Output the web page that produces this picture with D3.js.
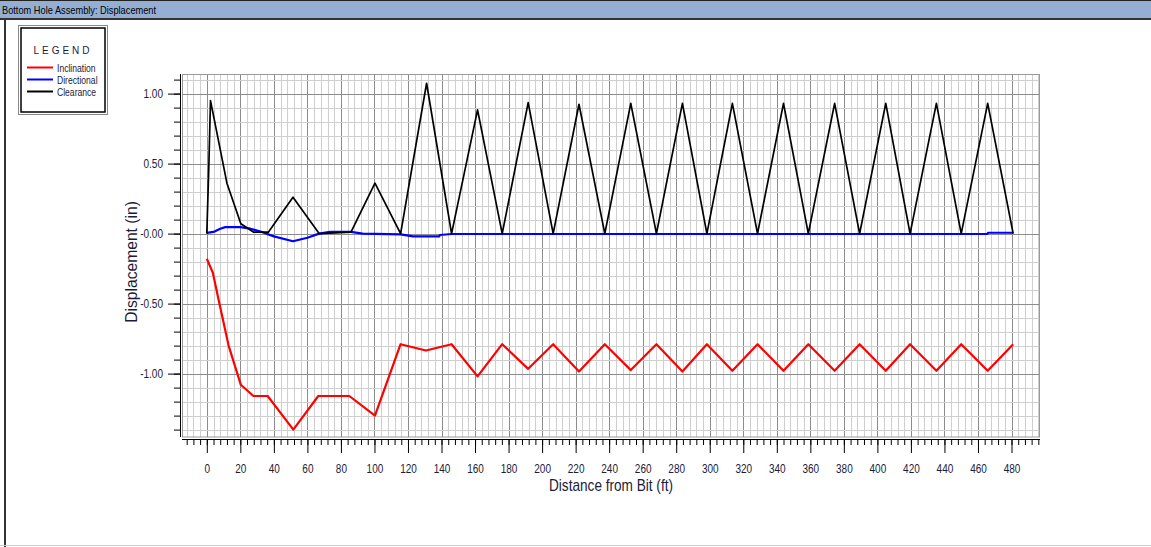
<!DOCTYPE html>
<html>
<head>
<meta charset="utf-8">
<script src="https://cdn.jsdelivr.net/npm/d3@7"></script>
<style>
    body { margin: 0; background: #fff; overflow: hidden; }
    svg text { font-family: "Liberation Sans", Arial, sans-serif; }
</style>
</head>
<body>
<div id="my_dataviz"></div>
<script>
// values (distance in ft, displacement in in)
var inclinationX = [0, 3.6, 7, 13, 20.3, 27.8, 36.3, 51.6, 66.5, 85, 100.3, 115.6, 130.7, 146, 161.5, 176.2, 191.7, 206.6, 222, 237.4, 252.9, 268.2, 283.7, 298.3, 313.5, 328.5, 344, 358.8, 374.5, 389.4, 405, 419.5, 435.2, 450, 465.8, 481];
var inclinationY = [-0.18, -0.28, -0.47, -0.80, -1.08, -1.16, -1.16, -1.40, -1.16, -1.16, -1.30, -0.79, -0.835, -0.79, -1.02, -0.79, -0.966, -0.79, -0.985, -0.79, -0.975, -0.79, -0.985, -0.79, -0.98, -0.79, -0.98, -0.79, -0.98, -0.79, -0.98, -0.79, -0.98, -0.79, -0.98, -0.79];

var directionalX = [0, 4, 8, 11, 20, 26, 32, 40, 51.4, 60, 67, 73.5, 86, 93, 115.6, 123, 138.6, 139, 146, 465.6, 466, 481];
var directionalY = [0.005, 0.012, 0.035, 0.046, 0.046, 0.035, 0.015, -0.02, -0.055, -0.03, 0.0, 0.012, 0.012, 0.0, -0.005, -0.02, -0.02, -0.01, -0.003, -0.003, 0.006, 0.006];

var clearanceX = [0, 1.2, 2.2, 12, 20.3, 28, 36.7, 51.4, 67, 86, 100.3, 115.6, 131.1, 146, 161.5, 176.2, 191.7, 206.6, 222, 237.4, 252.9, 268.2, 283.7, 298.3, 313.5, 328.5, 344, 358.8, 374.5, 389.4, 405, 419.5, 435.2, 450, 465.8, 481];
var clearanceY = [0, 0.48, 0.95, 0.36, 0.07, 0.01, 0.01, 0.26, 0.0, 0.01, 0.36, 0.0, 1.074, 0.0, 0.884, 0.0, 0.936, 0.0, 0.924, 0.0, 0.93, 0.0, 0.93, 0.0, 0.93, 0.0, 0.93, 0.0, 0.93, 0.0, 0.93, 0.0, 0.93, 0.0, 0.93, 0.0];

var seriesNames = ["Inclination", "Directional", "Clearance"];
var seriesColors = ["#ff0000", "#0000ff", "#000000"];

var xTickValues = d3.range(0, 481, 20);
var yTickValues = [1, 0.5, 0, -0.5, -1];
var yTickLabels = ["1.00", "0.50", "-0.00", "-0.50", "-1.00"];

var width = 1151;
var height = 547;

// squeeze text to look like the narrow font of the original
function narrow(sel, ratio) {
    sel.each(function () {
        var w = this.getComputedTextLength();
        d3.select(this)
            .attr("textLength", w * ratio)
            .attr("lengthAdjust", "spacingAndGlyphs");
    });
}

var svg = d3
    .select("#my_dataviz")
    .append("svg")
    .attr("id", "svg")
    .attr("width", width)
    .attr("height", height);

// window frame + title bar
svg.append("rect").attr("x", 0).attr("y", 0).attr("width", width).attr("height", height).attr("fill", "#fff");
svg.append("rect").attr("x", 0).attr("y", 0).attr("width", width).attr("height", 19).attr("fill", "#94afd3");
svg.append("line").attr("x1", 0).attr("x2", width).attr("y1", 0.5).attr("y2", 0.5).attr("stroke", "#222");
svg.append("line").attr("x1", 0).attr("x2", width).attr("y1", 19).attr("y2", 19).attr("stroke", "#333").attr("stroke-width", 2);
svg.append("line").attr("x1", 5).attr("x2", 5).attr("y1", 19).attr("y2", height).attr("stroke", "#333").attr("stroke-width", 2);
svg.append("line").attr("x1", 0).attr("x2", width).attr("y1", height - 1.5).attr("y2", height - 1.5).attr("stroke", "#ccc");
svg.append("text")
    .attr("x", 2)
    .attr("y", 14)
    .style("font-size", "11px")
    .attr("fill", "#000")
    .text("Bottom Hole Assembly: Displacement")
    .call(narrow, 0.84);

// scales
var x = d3.scaleLinear().domain([-14.8, 497]).range([182, 1040]);
var y = d3.scaleLinear().domain([-1.455, 1.14]).range([437.3, 74]);

var plot = svg.append("g");

// grid
var vMinor = d3.range(-12, 497, 4);
var hMinor = d3.range(-14, 12, 1).map(function (d) { return d / 10; });

plot.selectAll("vgrid")
    .data(vMinor)
    .enter()
    .append("line")
    .attr("x1", function (d) { return Math.round(x(d)) + 0.5; })
    .attr("x2", function (d) { return Math.round(x(d)) + 0.5; })
    .attr("y1", 74)
    .attr("y2", 437)
    .attr("stroke", function (d) { return d % 20 === 0 ? "#8c8c8c" : "#cfcfcf"; });

plot.selectAll("hgrid")
    .data(hMinor)
    .enter()
    .append("line")
    .attr("x1", 182)
    .attr("x2", 1040)
    .attr("y1", function (d) { return Math.round(y(d)) + 0.5; })
    .attr("y2", function (d) { return Math.round(y(d)) + 0.5; })
    .attr("stroke", function (d) { return Math.abs(Math.round(d * 10)) % 5 === 0 ? "#8c8c8c" : "#cfcfcf"; });

plot.append("rect")
    .attr("x", 182.5)
    .attr("y", 74.5)
    .attr("width", 857)
    .attr("height", 362.5)
    .attr("fill", "none")
    .attr("stroke", "#999");

// x axis: minor then major ticks
var xAxisG = svg.append("g").attr("transform", "translate(0,439)");
xAxisG.append("g")
    .call(d3.axisBottom(x).tickValues(vMinor).tickSize(6).tickFormat(""))
    .call(function (g) { g.select(".domain").attr("stroke", "#000").attr("d", "M182,0.5H1040"); });
xAxisG.append("g")
    .call(d3.axisBottom(x).tickValues(xTickValues).tickSize(14).tickPadding(11).tickFormat(d3.format("d")))
    .call(function (g) {
        g.select(".domain").remove();
        g.selectAll("line").attr("stroke", "#000");
        g.selectAll("text").style("font-size", "12.5px").attr("fill", "#1c1c3a").call(narrow, 0.8);
    });

// y axis
var yAxisG = svg.append("g").attr("transform", "translate(180,0)");
yAxisG.append("g")
    .call(d3.axisLeft(y).tickValues(hMinor).tickSize(6).tickFormat(""))
    .call(function (g) { g.select(".domain").attr("stroke", "#000").attr("d", "M0.5,74V437"); });
yAxisG.append("g")
    .call(d3.axisLeft(y).tickValues(yTickValues).tickSize(12).tickPadding(5).tickFormat(function (d, i) { return yTickLabels[i]; }))
    .call(function (g) {
        g.select(".domain").remove();
        g.selectAll("line").attr("stroke", "#000");
        g.selectAll("text").style("font-size", "12.5px").attr("fill", "#1c1c3a").call(narrow, 0.8);
    });

// axis titles
svg.append("text")
    .attr("x", 611)
    .attr("y", 491)
    .attr("text-anchor", "middle")
    .style("font-size", "17px")
    .attr("fill", "#1c1c3a")
    .text("Distance from Bit (ft)")
    .call(narrow, 0.8);

svg.append("text")
    .attr("transform", "translate(137,262) rotate(-90)")
    .attr("text-anchor", "middle")
    .style("font-size", "17px")
    .attr("fill", "#1c1c3a")
    .text("Displacement (in)")
    .call(narrow, 0.92);

// lines
var series = [
    { xs: inclinationX, ys: inclinationY },
    { xs: directionalX, ys: directionalY },
    { xs: clearanceX, ys: clearanceY }
];

var line = d3.line()
    .x(function (d) { return x(d[0]); })
    .y(function (d) { return y(d[1]); });

svg.selectAll("serieslines")
    .data(series)
    .enter()
    .append("path")
    .attr("d", function (s) { return line(d3.zip(s.xs, s.ys)); })
    .attr("fill", "none")
    .attr("stroke", function (d, i) { return seriesColors[i]; })
    .attr("stroke-width", function (d, i) { return i === 2 ? 1.7 : 2.2; })
    .attr("stroke-linejoin", "round");

// legend
var legend = svg.append("g");
legend.append("rect").attr("x", 18.5).attr("y", 25.5).attr("width", 89).attr("height", 89).attr("fill", "#fff").attr("stroke", "#888");
legend.append("rect").attr("x", 21).attr("y", 28).attr("width", 84).attr("height", 84).attr("fill", "none").attr("stroke", "#000").attr("stroke-width", 1.5);
legend.append("text")
    .attr("x", 63)
    .attr("y", 54)
    .attr("text-anchor", "middle")
    .style("font-size", "10px")
    .style("letter-spacing", "3px")
    .attr("fill", "#1c1c3a")
    .text("LEGEND");

var size = 12;
legend.selectAll("mydots")
    .data(seriesNames)
    .enter()
    .append("line")
    .attr("x1", 27)
    .attr("x2", 53)
    .attr("y1", function (d, i) { return 67.5 + i * size; })
    .attr("y2", function (d, i) { return 67.5 + i * size; })
    .attr("stroke", function (d, i) { return seriesColors[i]; })
    .attr("stroke-width", 2);

legend.selectAll("mylabels")
    .data(seriesNames)
    .enter()
    .append("text")
    .attr("x", 57)
    .attr("y", function (d, i) { return 71.5 + i * size; })
    .style("font-size", "11px")
    .attr("fill", "#1c1c3a")
    .text(function (d) { return d; })
    .call(narrow, 0.78);
</script>
</body>
</html>
